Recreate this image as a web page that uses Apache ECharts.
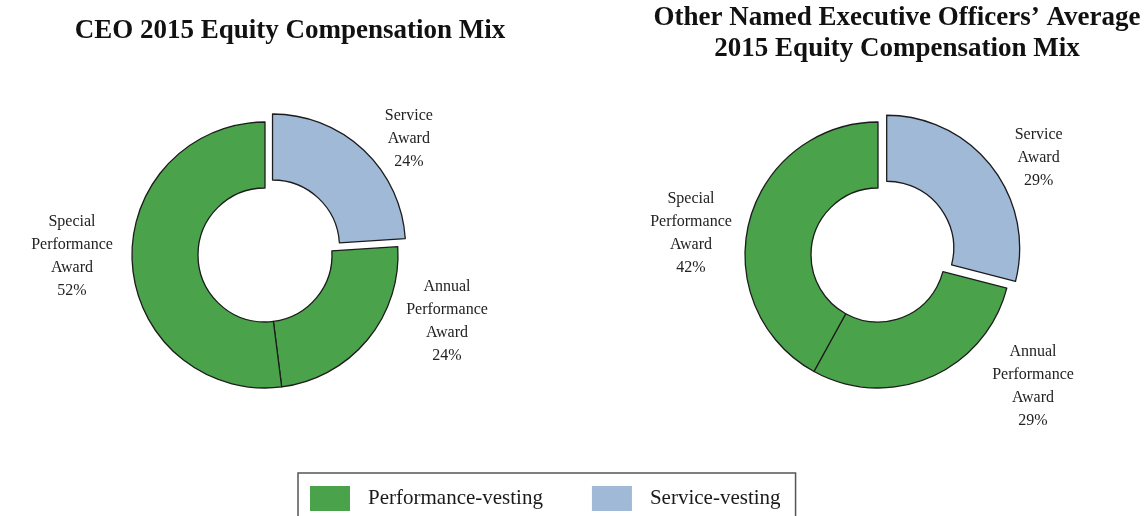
<!DOCTYPE html>
<html>
<head>
<meta charset="utf-8">
<script src="https://cdn.jsdelivr.net/npm/echarts@6/dist/echarts.min.js"></script>
<style>
  html, body { margin: 0; padding: 0; background: #fff; }
  #main { width: 1144px; height: 516px; }
</style>
</head>
<body>
<div id="main"></div>
<script>
// slices, clockwise from 12 o'clock
var awards = ['Service Award', 'Annual Performance Award', 'Special Performance Award'];
var vesting = ['Service-vesting', 'Performance-vesting', 'Performance-vesting'];
var ceoMix = [24, 24, 52];
var neoMix = [29, 29, 42];
var legendNames = ['Performance-vesting', 'Service-vesting'];

var GREEN = '#4aa24a';
var BLUE = '#a0b9d7';
var FONT = '"Liberation Serif", "Times New Roman", serif';

// where each label sits (centre of the text block), by series then slice
var labelSpots = [
    [[410, 130], [447, 321], [72, 256]],
    [[1042, 150], [1033, 386], [691, 233]]
];

function makeData(values){
    var out = [];
    for (var i = 0; i < awards.length; i++){
        var serv = vesting[i] == 'Service-vesting';
        out.push({
            name: awards[i],
            value: values[i],
            selected: serv,
            itemStyle: { color: serv ? BLUE : GREEN }
        });
    }
    return out;
}

function donut(idx, center, values){
    return {
        type: 'pie',
        name: idx == 0 ? 'CEO' : 'NEO',
        center: center,
        radius: [67, 133],
        startAngle: 90,
        clockwise: true,
        selectedMode: 'multiple',
        selectedOffset: 11,
        avoidLabelOverlap: false,
        silent: true,
        legendHoverLink: false,
        itemStyle: { borderColor: '#1c1c1c', borderWidth: 1.3 },
        select: { itemStyle: { borderColor: '#1c1c1c', borderWidth: 1.3 } },
        label: {
            show: true,
            position: 'outside',
            fontFamily: FONT,
            fontSize: 16,
            lineHeight: 23,
            color: '#222',
            formatter: function(p){ return p.name.split(' ').join('\n') + '\n' + p.value + '%'; }
        },
        labelLine: { show: false },
        labelLayout: function(p){
            var s = labelSpots[idx][p.dataIndex];
            return { x: s[0], y: s[1], align: 'center', verticalAlign: 'middle' };
        },
        data: makeData(values)
    };
}

// empty series that only feed the legend
function legendSeries(name, color){
    return {
        type: 'custom',
        name: name,
        coordinateSystem: 'none',
        itemStyle: { color: color },
        renderItem: function(){ return null; },
        data: []
    };
}

var myChart = echarts.init(document.getElementById('main'));
var option = {
    animation: false,
    backgroundColor: '#fff',
    title: [
        {
            text: 'CEO 2015 Equity Compensation Mix',
            left: 285, top: 11, textAlign: 'center',
            textStyle: { fontFamily: FONT, fontSize: 27, fontWeight: 'bold', color: '#111', lineHeight: 31 }
        },
        {
            text: 'Other Named Executive Officers\u2019 Average\n2015 Equity Compensation Mix',
            left: 892, top: -2, textAlign: 'center',
            textStyle: { fontFamily: FONT, fontSize: 27, fontWeight: 'bold', color: '#111', lineHeight: 31 }
        }
    ],
    legend: {
        data: legendNames,
        left: 298,
        top: 473,
        orient: 'horizontal',
        itemWidth: 40,
        itemHeight: 25,
        itemGap: 49,
        padding: [13, 15, 20, 12],
        borderColor: '#555',
        borderWidth: 1.5,
        selectedMode: false,
        icon: 'rect',
        textStyle: { fontFamily: FONT, fontSize: 21, color: '#1a1a1a', padding: [0, 0, 0, 13] }
    },
    series: [
        donut(0, [265, 255], ceoMix),
        donut(1, [878, 255], neoMix),
        legendSeries(legendNames[0], GREEN),
        legendSeries(legendNames[1], BLUE)
    ]
};
myChart.setOption(option);
</script>
</body>
</html>
